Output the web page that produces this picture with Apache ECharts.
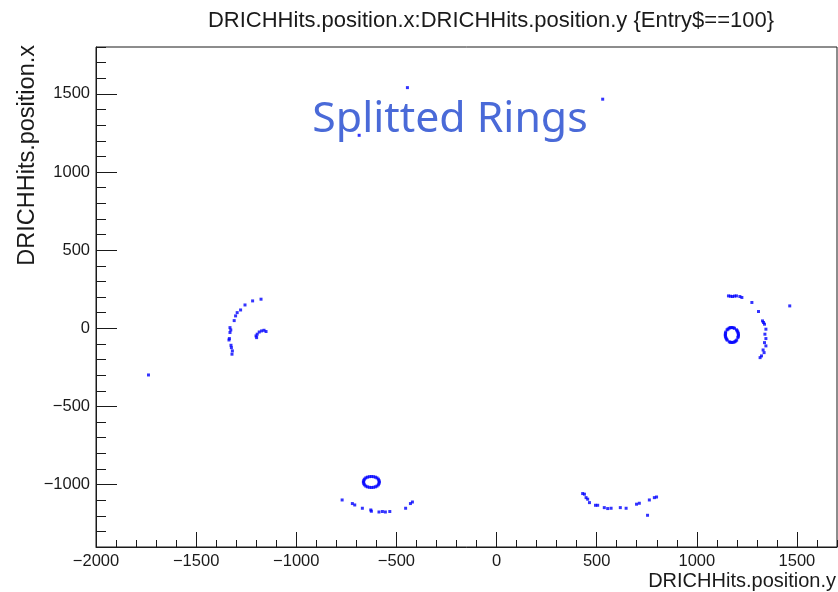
<!DOCTYPE html>
<html>
<head>
<meta charset="utf-8">
<script src="https://cdn.jsdelivr.net/npm/echarts@6/dist/echarts.min.js"></script>
<style>
  html, body { margin: 0; padding: 0; background: #ffffff; }
  #chart { width: 838px; height: 592px; }
</style>
</head>
<body>
<div id="chart"></div>
<script>
// dRICH hits of one event: each pair is [position.y, position.x] in mm

// left sector: outer arc and small inner arc
const arcLeftOuter = [
  [-1176, 186], [-1218, 175], [-1256, 149], [-1278, 117], [-1295, 100],
  [-1303, 79], [-1310, 49], [-1331, 4], [-1327, -11], [-1331, -27],
  [-1334, -66], [-1336, -75], [-1326, -109], [-1324, -124], [-1319, -145],
  [-1321, -166]
];
const arcLeftInner = [
  [-1201, -49], [-1198, -60], [-1195, -38], [-1185, -24], [-1173, -17],
  [-1161, -13], [-1151, -21]
];

// right sector: closed ring and outer arc
const ringRight = [
  [1208, -43], [1207, -34], [1205, -25], [1202, -17], [1198, -10], [1188, 0],
  [1182, 3], [1175, 5], [1168, 4], [1162, 1], [1156, -5], [1151, -10],
  [1144, -25], [1143, -34], [1142, -43], [1143, -52], [1145, -61], [1148, -69],
  [1152, -76], [1162, -87], [1168, -90], [1175, -91], [1182, -90], [1189, -87],
  [1194, -82], [1199, -76], [1205, -60], [1207, -52]
];
const arcRight = [
  [1158, 207], [1168, 205], [1178, 203], [1188, 206], [1198, 207], [1215, 203],
  [1225, 197], [1275, 165], [1308, 107], [1328, 47], [1333, 37], [1338, 26],
  [1345, -6], [1340, -38], [1345, -66], [1338, -92], [1345, -113], [1331, -139],
  [1336, -156], [1323, -177], [1316, -188]
];

// bottom-left sector: closed ring and lower arc
const ringBottomLeft = [
  [-585, -984], [-587, -975], [-590, -966], [-597, -958], [-605, -953],
  [-615, -950], [-625, -949], [-635, -950], [-645, -953], [-653, -958],
  [-660, -966], [-663, -975], [-665, -984], [-663, -993], [-660, -1002],
  [-653, -1010], [-645, -1015], [-635, -1018], [-625, -1019], [-615, -1018],
  [-605, -1015], [-597, -1010], [-590, -1002], [-587, -993]
];
const arcBottomLeft = [
  [-771, -1099], [-720, -1122], [-708, -1131], [-670, -1152], [-628, -1163],
  [-625, -1171], [-587, -1176], [-570, -1173], [-555, -1176], [-533, -1173],
  [-454, -1152], [-430, -1122], [-420, -1112]
];

// bottom-right sector: lower arc
const arcBottomRight = [
  [430, -1058], [439, -1062], [447, -1084], [455, -1094], [464, -1116],
  [494, -1133], [505, -1133], [538, -1148], [555, -1154], [572, -1152],
  [618, -1148], [647, -1152], [699, -1126], [713, -1120], [763, -1099],
  [788, -1084], [799, -1080], [754, -1197]
];

// scattered single hits
const strayHits = [
  [-1738, -299], [1464, 143], [-445, 1540], [530, 1466], [-686, 1235]
];

// axis ranges and tick positions
const xRange = [-2000, 1700];
const yRange = [-1400, 1800];
const xMajorTicks = [-2000, -1500, -1000, -500, 0, 500, 1000, 1500];
const xMinorTicks = [-2000, -1900, -1800, -1700, -1600, -1500, -1400, -1300, -1200, -1100,
  -1000, -900, -800, -700, -600, -500, -400, -300, -200, -100, 0, 100, 200, 300, 400,
  500, 600, 700, 800, 900, 1000, 1100, 1200, 1300, 1400, 1500, 1600, 1700];
const yMajorTicks = [-1000, -500, 0, 500, 1000, 1500];
const yMinorTicks = [-1400, -1300, -1200, -1100, -1000, -900, -800, -700, -600, -500,
  -400, -300, -200, -100, 0, 100, 200, 300, 400, 500, 600, 700, 800, 900, 1000, 1100,
  1200, 1300, 1400, 1500, 1600, 1700, 1800];

const allHits = [].concat(arcLeftOuter, arcLeftInner, ringRight, arcRight,
  ringBottomLeft, arcBottomLeft, arcBottomRight, strayHits);

const FONT = '"Liberation Sans", Arial, Helvetica, sans-serif';
const INK = '#1a1a1a';
const minusSign = v => String(v).replace('-', '\u2212');

function majorAxis(range, ticks, len, labelMargin, extra) {
  return Object.assign({
    type: 'value', min: range[0], max: range[1],
    axisLine: { show: true, onZero: false, lineStyle: { color: INK, width: 1 } },
    axisTick: { show: true, inside: true, length: len, customValues: ticks,
      lineStyle: { color: INK, width: 1 } },
    axisLabel: { show: true, customValues: ticks, formatter: minusSign,
      color: INK, fontFamily: FONT, fontSize: 16.5, margin: labelMargin },
    splitLine: { show: false }
  }, extra);
}
function minorAxis(range, ticks, len, extra) {
  return Object.assign({
    type: 'value', min: range[0], max: range[1],
    axisLine: { show: false, onZero: false },
    axisTick: { show: true, inside: true, length: len, customValues: ticks,
      lineStyle: { color: INK, width: 1 } },
    axisLabel: { show: false },
    splitLine: { show: false }
  }, extra);
}

const chart = echarts.init(document.getElementById('chart'), null, { renderer: 'canvas' });
chart.setOption({
  animation: false,
  backgroundColor: '#ffffff',
  grid: {
    left: 96, right: 1, top: 47, bottom: 45,
    show: true, borderColor: INK, borderWidth: 1, backgroundColor: 'transparent'
  },
  xAxis: [
    majorAxis(xRange, xMajorTicks, 15, 6, { position: 'bottom' }),
    minorAxis(xRange, xMinorTicks, 7, { position: 'bottom' })
  ],
  yAxis: [
    majorAxis(yRange, yMajorTicks, 21, 6, { position: 'left' }),
    minorAxis(yRange, yMinorTicks, 10, { position: 'left', offset: 0 })
  ],
  series: [{
    type: 'scatter',
    xAxisIndex: 0, yAxisIndex: 0,
    data: allHits,
    symbol: 'rect',
    symbolSize: 3,
    itemStyle: { color: '#0000ff' },
    silent: true
  }],
  graphic: [
    { type: 'text', x: 491, y: 21,
      style: { text: 'DRICHHits.position.x:DRICHHits.position.y {Entry$==100}',
        font: '22px ' + FONT, fill: INK, textAlign: 'center', textVerticalAlign: 'middle' } },
    { type: 'text', x: 28, y: 45, rotation: Math.PI / 2,
      style: { text: 'DRICHHits.position.x', font: '23.5px ' + FONT, fill: INK,
        textAlign: 'right', textVerticalAlign: 'middle' } },
    { type: 'text', x: 836, y: 581,
      style: { text: 'DRICHHits.position.y', font: '20px ' + FONT, fill: INK,
        textAlign: 'right', textVerticalAlign: 'middle' } },
    { type: 'text', x: 450, y: 120,
      style: { text: 'Splitted Rings', font: '42.8px "Noto Sans", "Open Sans", sans-serif',
        fill: '#4a6ad8', textAlign: 'center', textVerticalAlign: 'middle' } }
  ]
});
</script>
</body>
</html>
